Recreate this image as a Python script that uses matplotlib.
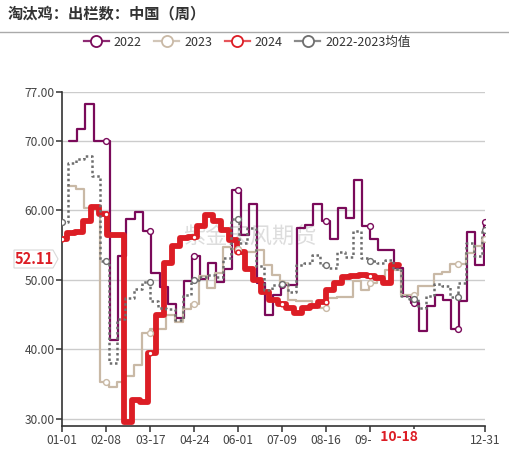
import matplotlib
matplotlib.use('Agg')
import matplotlib.pyplot as plt
import matplotlib.ticker as tck
from matplotlib.lines import Line2D
from matplotlib.patches import Polygon
import numpy as np
import pandas as pd

plt.rcParams['font.family'] = ['Noto Sans CJK SC', 'DejaVu Sans']

# weekly values
v2022 = [70.0, 70.0, 71.7, 75.3, 70.0, 70.0, 41.4, 53.5, 58.7, 59.7, 57.0, 51.0, 49.0,
         46.6, 44.5, 49.9, 53.4, 50.1, 52.4, 49.7, 51.5, 62.9, 56.5, 60.9, 49.6, 45.0,
         47.9, 49.3, 49.3, 57.4, 57.9, 60.9, 58.4, 55.9, 60.4, 58.9, 64.3, 57.8, 55.9,
         54.3, 54.3, 51.7, 47.7, 46.7, 42.7, 46.2, 47.8, 47.1, 42.9, 46.9, 56.9, 52.2,
         58.3]
v2023 = [63.5, 63.5, 63.05, 60.3, 60.0, 35.4, 34.6, 35.4, 36.2, 37.7, 42.4, 42.9, 42.9,
         45.0, 44.0, 45.8, 46.5, 50.6, 48.9, 51.0, 54.7, 54.5, 54.0, 54.0, 54.3, 52.2,
         50.7, 49.5, 47.1, 46.9, 46.9, 46.2, 45.9, 47.4, 47.6, 47.6, 49.8, 48.6, 49.5,
         50.5, 51.4, 51.4, 47.8, 47.8, 49.1, 49.1, 50.9, 51.2, 52.3, 52.3, 53.8, 54.8,
         55.9]
v2024 = [55.9, 55.9, 56.7, 56.9, 58.5, 60.5, 59.4, 56.5, 56.5, 29.6, 32.8, 32.5, 39.5,
         45.0, 52.4, 54.8, 56.0, 56.2, 57.8, 59.35, 58.4, 57.2, 55.8, 54.0, 51.5, 50.0,
         48.3, 47.1, 46.6, 45.9, 45.2, 45.9, 46.2, 46.8, 48.5, 49.6, 50.4, 50.6, 50.7,
         50.6, 50.3, 49.5, 52.11]
v_avg = [58.3, 58.3, 66.75, 67.4, 67.8, 65.0, 52.7, 38.0, 44.45, 47.45, 48.7, 49.7, 46.95,
         45.95, 45.8, 44.25, 47.85, 49.95, 50.35, 50.65, 50.35, 53.1, 58.7, 55.25, 57.45,
         51.95, 48.6, 49.3, 49.4, 48.2, 52.15, 52.4, 53.55, 52.15, 51.65, 54.0, 53.25,
         57.05, 53.2, 52.7, 52.4, 52.85, 51.55, 47.75, 47.25, 45.9, 47.65, 49.35, 49.15,
         47.6, 49.6, 55.35, 53.5, 57.1]

wk2022 = [d.strftime('%m-%d') for d in pd.date_range('2022-01-07', periods=52, freq='7D')]
wk2023 = [d.strftime('%m-%d') for d in pd.date_range('2023-01-06', periods=52, freq='7D')]
wk2024 = [d.strftime('%m-%d') for d in pd.date_range('2024-01-05', '2024-10-18', freq='7D')]
d2022 = wk2022 + ['12-31']
d2023 = wk2023 + ['12-31']
d2024 = ['01-01'] + wk2024
d_avg = ['01-01'] + wk2023 + ['12-31']

tick_days = ['01-01', '02-08', '03-17', '04-24', '06-01', '07-09', '08-16', '09-23', '10-31', '12-31']
mark_days = ['01-01', '02-08', '03-17', '04-24', '06-01', '07-09', '08-16', '09-23', '10-31', '12-08', '12-31']
last_day = '10-18'
last_val = 52.11


def to_idx(mds):
    # position on a 366-day month-day axis
    return np.array([pd.Timestamp('2024-' + md).dayofyear - 1 for md in mds])


series = [
    ('2022', d2022, v2022, '#7a0a5a', '#8e2a73', 1.6, '-'),
    ('2023', d2023, v2023, '#c9b9a6', '#d2c6b8', 1.6, '-'),
    ('2024', d2024, v2024, '#dc1d25', '#e6555b', 4.2, '-'),
    ('2022-2023均值', d_avg, v_avg, '#6e6e6e', '#8a8a8a', 1.8, (0, (1, 1.1))),
]

W, H = 509, 449
fig = plt.figure(figsize=(5.09, 4.49), dpi=100)
ax = fig.add_axes([0.1224, 0.0519, 0.8299, 0.7432])

mk = to_idx(mark_days)
handles = []
for z, (name, days, vals, col, lcol, lw, ls) in enumerate(series):
    xs = to_idx(days)
    ys = np.array(vals)
    ax.plot(xs, ys, drawstyle='steps-pre', color=col, lw=lw, ls=ls,
            solid_joinstyle='round', solid_capstyle='round', zorder=3 + z)
    inside = mk[(mk >= xs[0]) & (mk <= xs[-1])]
    my = ys[np.searchsorted(xs, inside, side='left')]
    ax.plot(inside, my, 'o', ms=4.2 if lw < 3 else 3.4, mfc='white', mec=col,
            mew=1.0, zorder=8 + z)
    handles.append(Line2D([0], [0], color=lcol, lw=1.6, marker='o', ms=8,
                          mfc='white', mec=col, mew=1.3))

ax.set_xlim(0, 365)
ax.set_ylim(29.05, 77)
ax.set_yticks([30, 40, 50, 60, 70, 77])
ax.yaxis.set_major_formatter(tck.FormatStrFormatter('%.2f'))
tick_lab = [t if t != '10-31' else '' for t in tick_days]
ax.set_xticks(to_idx(tick_days))
ax.set_xticklabels(tick_lab)
ax.grid(axis='y', color='#cccccc', lw=1)
ax.set_axisbelow(True)
for s in ['top', 'right']:
    ax.spines[s].set_visible(False)
for s in ['left', 'bottom']:
    ax.spines[s].set_color('#333333')
    ax.spines[s].set_linewidth(1.2)
ax.tick_params(axis='both', colors='#333333', labelsize=8.6, length=4, width=1.1, pad=2)
ax.tick_params(axis='y', pad=1.5)
for lab in ax.get_xticklabels() + ax.get_yticklabels():
    lab.set_color('#444444')

# latest date on the x axis, drawn over the neighbouring label like the original
ax.annotate('  ' + last_day + '  ', xy=(to_idx([last_day])[0], 0),
            xycoords=('data', 'axes fraction'),
            xytext=(0, -8.4), textcoords='offset points', ha='center', va='center',
            color='#dc1d25', fontsize=10, fontweight='bold', zorder=20,
            annotation_clip=False,
            bbox=dict(boxstyle='square,pad=0.12', fc='white', ec='none'))

# latest value tag on the y axis
tag = [(14, 250), (53, 250), (58, 259), (53, 268), (14, 268)]
fig.add_artist(Polygon([(x / W, 1 - y / H) for x, y in tag], closed=True,
                       fc='white', ec='#d9d9d9', lw=0.8, zorder=2))
fig.text(34 / W, 1 - 259 / H, '{:.2f}'.format(last_val), ha='center', va='center',
         color='#dc1d25', fontsize=10.5, fontweight='bold', zorder=3)

# watermark
ax.text(0.445, 0.565, '紫金天风期货', transform=ax.transAxes, ha='center', va='center',
        fontsize=16, color='#cfcfcf', alpha=0.7, zorder=1)

fig.text(8 / W, 1 - 13 / H, '淘汰鸡：出栏数：中国（周）', fontsize=11, fontweight='bold',
         color='#333333', va='center', ha='left')
fig.add_artist(Line2D([0, 1], [1 - 31.5 / H] * 2, color='#aaaaaa', lw=1))

fig.legend(handles, [s[0] for s in series], loc='center', ncol=4,
           bbox_to_anchor=(247 / W, 1 - 42 / H), frameon=False, fontsize=9,
           handlelength=2.0, handletextpad=0.4, columnspacing=1.0, labelcolor='#333333')

fig.savefig('out.png', dpi=100)
